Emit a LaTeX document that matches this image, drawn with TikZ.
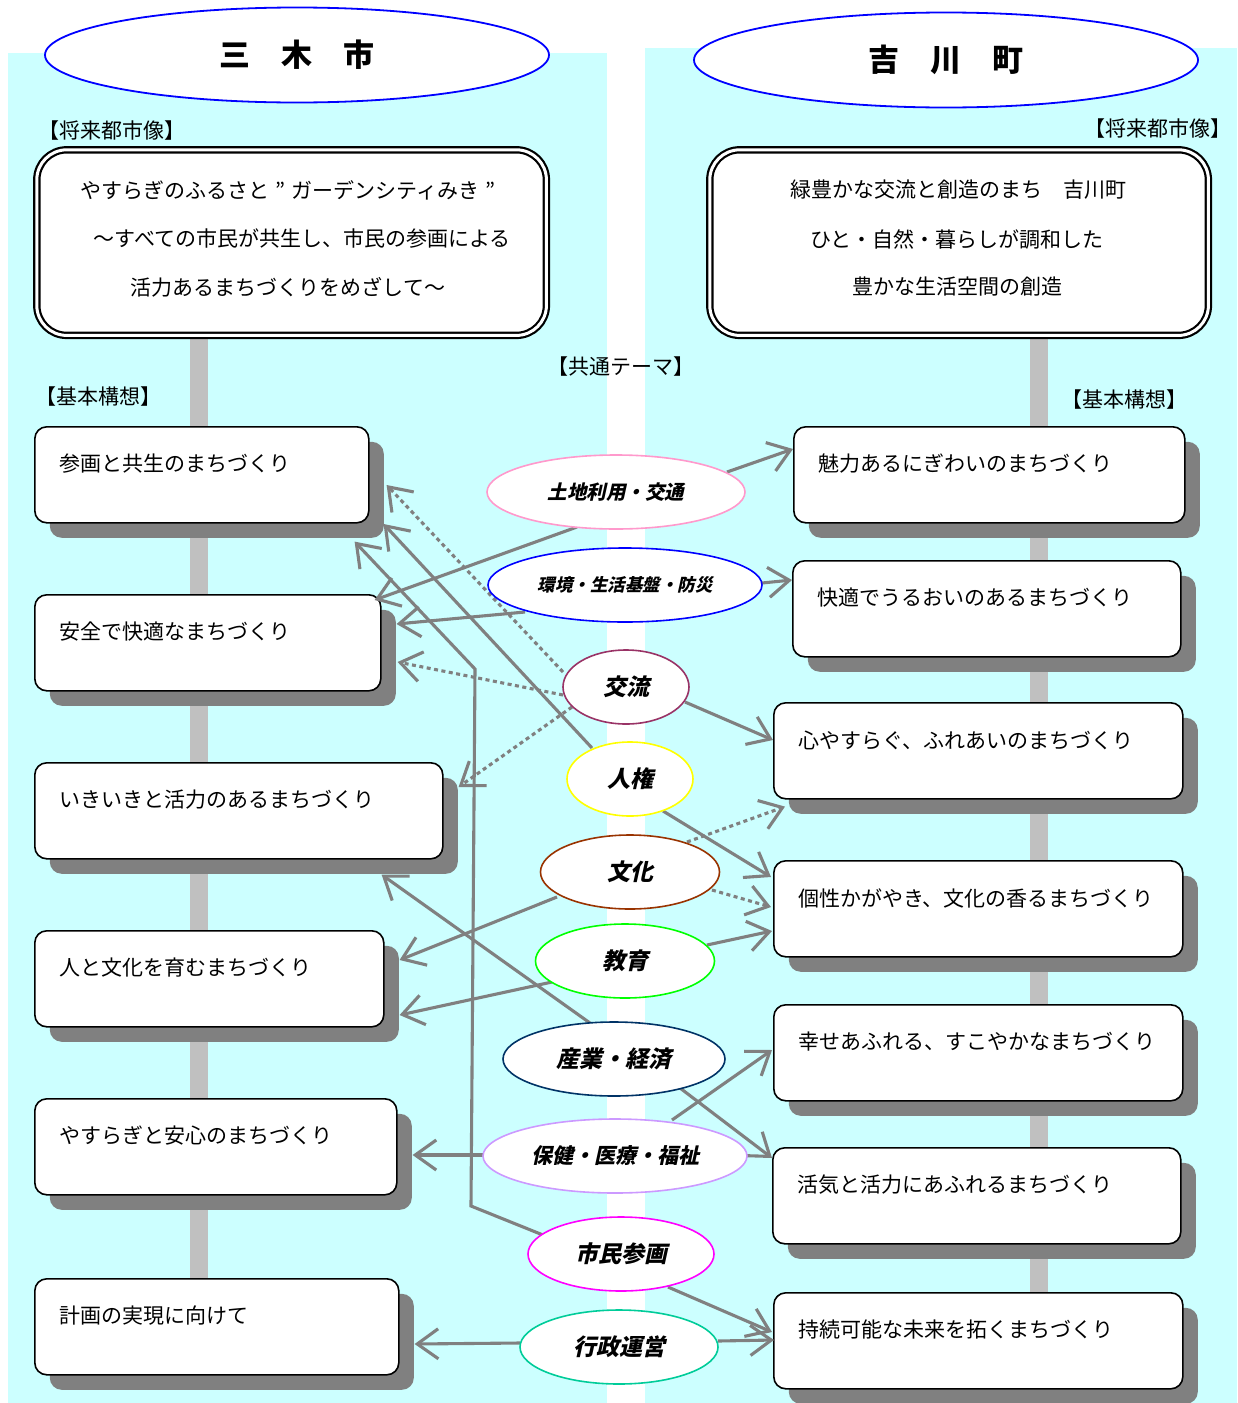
\documentclass[tikz,border=0pt]{standalone}
\usepackage{fontspec}
\setmainfont{Noto Sans CJK JP}
\newfontfamily\themefont[FakeSlant=0.22]{Noto Sans CJK JP}
\usetikzlibrary{shapes.geometric,arrows.meta,shadows,calc}
\pgfdeclarelayer{bglayer}
\pgfdeclarelayer{spinelayer}
\pgfsetlayers{bglayer,spinelayer,main}
\definecolor{panelc}{HTML}{CCFFFF}
\definecolor{spinec}{HTML}{C0C0C0}
\definecolor{linkc}{HTML}{808080}
\definecolor{shadowc}{HTML}{808080}
\definecolor{cPink}{HTML}{FF99CC}
\definecolor{cBlue}{HTML}{0000FF}
\definecolor{cPlum}{HTML}{993366}
\definecolor{cYellow}{HTML}{FFFF00}
\definecolor{cBrown}{HTML}{993300}
\definecolor{cGreen}{HTML}{00FF00}
\definecolor{cNavy}{HTML}{003366}
\definecolor{cLav}{HTML}{CC99FF}
\definecolor{cMag}{HTML}{FF00FF}
\definecolor{cTeal}{HTML}{00CC99}
\tikzset{
  basebox/.style={draw=black, line width=1.6pt, fill=white, rounded corners=12pt,
    anchor=north west, inner sep=0pt, minimum height=96pt,
    general shadow={fill=shadowc, shadow xshift=15pt, shadow yshift=-15pt}},
  boxtext/.style={anchor=west, inner sep=0pt, font=\fontsize{21}{24}\selectfont},
  visionbox/.style={draw=black, double=white, double distance=3pt, line width=2.2pt,
    fill=white, rounded corners=30pt, inner sep=0pt, anchor=north west,
    minimum height=185.6pt},
  visiontext/.style={inner sep=0pt, font=\fontsize{21}{24}\selectfont},
  headtext/.style={inner sep=0pt, font=\fontsize{21}{24}\selectfont},
  titleell/.style={ellipse, draw=cBlue, line width=1.8pt, fill=white, inner sep=0pt,
    minimum width=504pt, minimum height=95pt, font=\bfseries\fontsize{31}{34}\selectfont},
  theme/.style={ellipse, fill=white, line width=1.6pt, inner sep=0pt, minimum height=74pt,
    font=\themefont\bfseries\fontsize{23}{26}\selectfont},
  link/.style={draw=linkc, line width=3.1pt, -{Straight Barb[length=21pt,width=30pt]}},
  dlink/.style={link, dash pattern=on 4pt off 3.5pt},
  spineline/.style={draw=spinec, line width=18pt},
}
\begin{document}
\begin{tikzpicture}[x=1pt,y=-1pt]
\useasboundingbox (0,0) rectangle (1237,1403);
\begin{pgfonlayer}{bglayer}
  \fill[white] (0,0) rectangle (1237,1403);
  \fill[panelc] (8,53) rectangle (607,1403);
  \fill[panelc] (645,48) rectangle (1237,1403);
\end{pgfonlayer}

% titles
\node[titleell] (TL) at (297,55) {三　木　市};
\node[titleell] (TR) at (946,60) {吉　川　町};

% headings
\node[headtext] (HL1) at (112,131) {【将来都市像】};
\node[headtext] (HR1) at (1158,129) {【将来都市像】};
\node[headtext] (HC) at (621,367) {【共通テーマ】};
\node[headtext] (HL2) at (98,397) {【基本構想】};
\node[headtext] (HR2) at (1124,400) {【基本構想】};

% vision boxes
\node[visionbox, minimum width=509.6pt] (VL) at (35.7,148.7) {};
\node[visiontext] (VL1) at (288,190) {やすらぎのふるさと\hspace{0.3em}”\hspace{0.3em}ガーデンシティみき\hspace{0.3em}”};
\node[visiontext] (VL2) at (302,239) {～すべての市民が共生し、市民の参画による};
\node[visiontext] (VL3) at (288,287) {活力あるまちづくりをめざして～};
\node[visionbox, minimum width=498.6pt] (VR) at (708.7,148.7) {};
\node[visiontext] (VR1) at (958,190) {緑豊かな交流と創造のまち　吉川町};
\node[visiontext] (VR2) at (957,239) {ひと・自然・暮らしが調和した};
\node[visiontext] (VR3) at (957,287) {豊かな生活空間の創造};

% left boxes
\node[basebox, minimum width=334pt] (L1) at (34,426) {};
\node[basebox, minimum width=346pt] (L2) at (34,594) {};
\node[basebox, minimum width=408pt] (L3) at (34,762) {};
\node[basebox, minimum width=349pt] (L4) at (34,930) {};
\node[basebox, minimum width=362pt] (L5) at (34,1098) {};
\node[basebox, minimum width=364pt] (L6) at (34,1278) {};
\node[boxtext] (L1t) at ([shift={(25,38)}]L1.north west) {参画と共生のまちづくり};
\node[boxtext] (L2t) at ([shift={(25,38)}]L2.north west) {安全で快適なまちづくり};
\node[boxtext] (L3t) at ([shift={(25,38)}]L3.north west) {いきいきと活力のあるまちづくり};
\node[boxtext] (L4t) at ([shift={(25,38)}]L4.north west) {人と文化を育むまちづくり};
\node[boxtext] (L5t) at ([shift={(25,38)}]L5.north west) {やすらぎと安心のまちづくり};
\node[boxtext] (L6t) at ([shift={(25,38)}]L6.north west) {計画の実現に向けて};

% right boxes
\node[basebox, minimum width=391pt] (R1) at (793,426) {};
\node[basebox, minimum width=388pt] (R2) at (792,560) {};
\node[basebox, minimum width=409pt] (R3) at (773,702) {};
\node[basebox, minimum width=409pt] (R4) at (773,860) {};
\node[basebox, minimum width=409pt] (R5) at (773,1004) {};
\node[basebox, minimum width=408pt] (R6) at (772,1147) {};
\node[basebox, minimum width=409pt] (R7) at (773,1292) {};
\node[boxtext] (R1t) at ([shift={(25,38)}]R1.north west) {魅力あるにぎわいのまちづくり};
\node[boxtext] (R2t) at ([shift={(25,38)}]R2.north west) {快適でうるおいのあるまちづくり};
\node[boxtext] (R3t) at ([shift={(25,38)}]R3.north west) {心やすらぐ、ふれあいのまちづくり};
\node[boxtext] (R4t) at ([shift={(25,38)}]R4.north west) {個性かがやき、文化の香るまちづくり};
\node[boxtext] (R5t) at ([shift={(25,38)}]R5.north west) {幸せあふれる、すこやかなまちづくり};
\node[boxtext] (R6t) at ([shift={(25,38)}]R6.north west) {活気と活力にあふれるまちづくり};
\node[boxtext] (R7t) at ([shift={(25,38)}]R7.north west) {持続可能な未来を拓くまちづくり};

% spines
\begin{pgfonlayer}{spinelayer}
  \draw[spineline] ([xshift=163.3pt]VL.south west) -- ([shift={(165,2)}]L6.north west);
  \draw[spineline] ([xshift=330.3pt]VR.south west) -- ([shift={(266,2)}]R7.north west);
\end{pgfonlayer}

% theme coordinates (centres)
\coordinate (T1c) at (616,492);
\coordinate (T2c) at (625,585);
\coordinate (T3c) at (626,687);
\coordinate (T4c) at (630,779);
\coordinate (T5c) at (630,872);
\coordinate (T6c) at (625,961);
\coordinate (T7c) at (614,1059);
\coordinate (T8c) at (615,1156);
\coordinate (T9c) at (621,1254);
\coordinate (T10c) at (619,1347);
\coordinate (B1) at (471,1206);
\coordinate (B2) at (475,669);

% connectors
\draw[link] ([shift={(111,-20)}]T1c) -- ([shift={(0,23)}]R1.north west);
\draw[link] ([shift={(-39,35)}]T1c) -- ([shift={(-7,6)}]L2.north east);
\draw[link] ([shift={(137,-2)}]T2c) -- ([shift={(0,20)}]R2.north west);
\draw[link] ([shift={(-100,27)}]T2c) -- ([shift={(15,30)}]L2.north east);
\draw[dlink] ([shift={(-63,-15)}]T3c) -- ([shift={(17,59)}]L1.north east);
\draw[dlink] ([shift={(-63,8)}]T3c) -- ([shift={(16,68)}]L2.north east);
\draw[dlink] ([shift={(-54,20)}]T3c) -- ([shift={(15,25)}]L3.north east);
\draw[link] ([shift={(59,15)}]T3c) -- ([shift={(0,38)}]R3.north west);
\draw[link] ([shift={(-38,-31)}]T4c) -- ([shift={(14,98)}]L1.north east);
\draw[link] ([shift={(33,32)}]T4c) -- ([shift={(-2,17)}]R4.north west);
\draw[link] ([shift={(-73,25)}]T5c) -- ([shift={(15,30)}]L4.north east);
\draw[dlink] ([shift={(82,18)}]T5c) -- ([shift={(-2,47)}]R4.north west);
\draw[dlink] ([shift={(57,-30)}]T5c) -- ([shift={(12,7)}]R3.south west);
\draw[link] ([shift={(82,-16)}]T6c) -- ([shift={(-1,71)}]R4.north west);
\draw[link] ([shift={(-73,21)}]T6c) -- ([shift={(15,85)}]L4.north east);
\draw[link] ([shift={(-24,-36)}]T7c) -- ([shift={(-62,15)}]L3.south east);
\draw[link] ([shift={(66,29)}]T7c) -- ([shift={(0,11)}]R6.north west);
\draw[link] ([shift={(-132,-1)}]T8c) -- ([shift={(15,57)}]L5.north east);
\draw[link] ([shift={(57,-36)}]T8c) -- ([shift={(-1,46)}]R5.north west);
\draw[link] ([shift={(-78,-19)}]T9c) -- (B1) -- (B2) -- ([shift={(-15,18)}]L1.south east);
\draw[link] ([shift={(47,33)}]T9c) -- ([shift={(-1,40)}]R7.north west);
\draw[link] ([shift={(-99,-4)}]T10c) -- ([shift={(15,66)}]L6.north east);
\draw[link] ([shift={(99,-6)}]T10c) -- ([shift={(1,48)}]R7.north west);

% theme ellipses
\node[theme, draw=cPink, minimum width=258pt, font=\themefont\bfseries\fontsize{19.5}{22}\selectfont] (T1) at (T1c) {土地利用・交通};
\node[theme, draw=cBlue, minimum width=274pt, font=\themefont\bfseries\fontsize{17.5}{20}\selectfont] (T2) at (T2c) {環境・生活基盤・防災};
\node[theme, draw=cPlum, minimum width=126pt] (T3) at (T3c) {交流};
\node[theme, draw=cYellow, minimum width=126pt] (T4) at (T4c) {人権};
\node[theme, draw=cBrown, minimum width=179pt] (T5) at (T5c) {文化};
\node[theme, draw=cGreen, minimum width=179pt] (T6) at (T6c) {教育};
\node[theme, draw=cNavy, minimum width=222pt] (T7) at (T7c) {産業・経済};
\node[theme, draw=cLav, minimum width=264pt, font=\themefont\bfseries\fontsize{21}{24}\selectfont] (T8) at (T8c) {保健・医療・福祉};
\node[theme, draw=cMag, minimum width=186pt] (T9) at (T9c) {市民参画};
\node[theme, draw=cTeal, minimum width=198pt] (T10) at (T10c) {行政運営};
\end{tikzpicture}
\end{document}
